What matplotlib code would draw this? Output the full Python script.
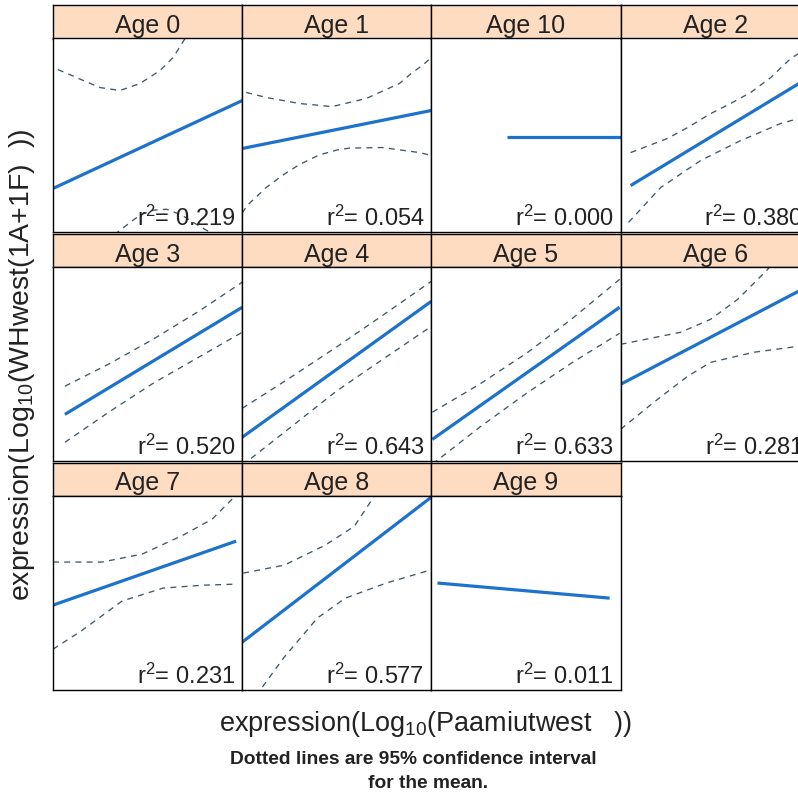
import matplotlib
matplotlib.use("Agg")
import matplotlib.pyplot as plt

plt.rcParams['font.family'] = ['Liberation Sans', 'DejaVu Sans']
plt.rcParams['mathtext.fontset'] = 'custom'
plt.rcParams['mathtext.rm'] = 'Liberation Sans'
plt.rcParams['mathtext.it'] = 'Liberation Sans:italic'
plt.rcParams['mathtext.bf'] = 'Liberation Sans:bold'

# panels in lattice order (left to right, top to bottom)
ages = ["Age 0", "Age 1", "Age 10", "Age 2",
        "Age 3", "Age 4", "Age 5", "Age 6",
        "Age 7", "Age 8", "Age 9"]
r2 = [0.219, 0.054, 0.000, 0.380,
      0.520, 0.643, 0.633, 0.281,
      0.231, 0.577, 0.011]

# fitted regression lines (shared 0-10 scales)
fit_x = [[0, 10], [0, 10], [4.02, 10], [0.53, 10],
         [0.63, 10], [0, 10], [0.05, 9.95], [0, 10],
         [0, 9.68], [0, 10], [0.32, 9.42]]
fit_y = [[2.27, 6.80], [4.33, 6.29], [4.90, 4.90], [2.42, 8.02],
         [2.42, 7.94], [1.24, 8.25], [1.13, 7.94], [3.97, 9.07],
         [4.38, 7.68], [2.47, 9.95], [5.52, 4.74]]

# upper 95% confidence limits
up_x = [[0.26, 1.59, 2.49, 3.54, 4.60, 5.66, 6.35, 6.98, 7.35],
        [0.21, 1.27, 3.02, 4.76, 6.56, 8.31, 9.0, 9.52, 10],
        None,
        [0.53, 2.48, 3.54, 4.76, 5.82, 6.88, 7.94, 8.99, 9.42, 10],
        [0.63, 3.02, 5.29, 7.78, 10],
        [0, 2.49, 4.97, 7.51, 10],
        [0.05, 2.54, 5.03, 7.46, 9.95],
        [0, 3.17, 4.76, 6.19, 7.78, 8.5],
        [0, 2.59, 4.71, 6.88, 8.41, 9.47],
        [0.05, 2.22, 4.39, 5.93, 6.88, 7.25],
        None]
up_y = [[8.40, 7.84, 7.47, 7.32, 7.68, 8.35, 9.02, 10.0, 10.5],
        [7.22, 6.96, 6.65, 6.49, 6.91, 7.68, 8.25, 8.61, 9.02],
        None,
        [4.12, 4.85, 5.41, 6.13, 6.65, 7.22, 7.99, 8.97, 9.23, 9.64],
        [3.87, 5.05, 6.29, 7.78, 9.23],
        [2.73, 4.28, 5.88, 7.58, 9.28],
        [2.53, 3.97, 5.57, 7.37, 9.38],
        [6.03, 6.65, 7.32, 8.35, 9.90, 10.9],
        [6.60, 6.60, 7.01, 7.99, 8.81, 9.85],
        [6.03, 6.44, 7.47, 8.45, 9.85, 10.4],
        None]

# lower 95% confidence limits
lo_x = [[2.8, 3.39, 3.92, 4.60, 5.30, 6.00, 6.80, 7.78, 8.70],
        [0, 0.26, 1.27, 2.12, 3.02, 4.07, 5.0, 5.66, 7.41, 9.37, 10],
        None,
        [0.42, 2.12, 4.23, 6.35, 8.47, 9.42, 10],
        [0.63, 3.02, 5.29, 7.78, 10],
        [0, 2.49, 4.97, 7.51, 10],
        [0.05, 2.54, 5.03, 7.46, 9.95],
        [0, 1.75, 3.54, 4.76, 7.04, 9.42, 10],
        [0, 1.48, 3.65, 5.82, 7.99, 9.58],
        [0.37, 0.95, 2.22, 3.97, 5.45, 7.62, 9.95],
        None]
lo_y = [[-0.5, 0.0, 0.4, 0.9, 1.15, 1.2, 0.9, 0.3, -0.2],
        [1.0, 1.39, 2.32, 2.94, 3.50, 4.0, 4.25, 4.35, 4.38, 4.12, 3.97],
        None,
        [0.52, 2.32, 3.71, 4.74, 5.62, 5.88, 6.05],
        [0.98, 2.58, 4.02, 5.41, 6.65],
        [-0.21, 1.70, 3.61, 5.31, 6.96],
        [-0.15, 1.75, 3.51, 5.10, 6.60],
        [1.65, 3.04, 4.38, 5.10, 5.62, 5.93, 6.0],
        [2.11, 3.04, 4.59, 5.26, 5.41, 5.46],
        [-0.77, 0.0, 1.70, 3.71, 4.74, 5.52, 6.19],
        None]

W, H = 798, 796
fig = plt.figure(figsize=(W / 100, H / 100), dpi=100)


def box(left, top, w, h):
    # pixel box -> figure fraction
    return [left / W, 1 - (top + h) / H, w / W, h / H]


col_w = 189.2
row_h = 228.8
strip_h = 33.5
panel_h = 194

for i, name in enumerate(ages):
    row, col = divmod(i, 4)
    left = 53 + col * col_w
    top = 5 + row * row_h

    strip = fig.add_axes(box(left, top, col_w, strip_h))
    strip.set_facecolor('#fddcc2')
    strip.set_xticks([])
    strip.set_yticks([])
    for s in strip.spines.values():
        s.set_linewidth(1.0)
    strip.text(0.5, 0.17, name, ha='center', va='baseline', fontsize=18,
               color='#222222', transform=strip.transAxes)

    ax = fig.add_axes(box(left, top + strip_h, col_w, panel_h))
    ax.set_xlim(0, 10)
    ax.set_ylim(0, 10)
    ax.set_xticks([])
    ax.set_yticks([])
    for s in ax.spines.values():
        s.set_linewidth(1.0)

    if up_x[i] is not None:
        ax.plot(up_x[i], up_y[i], color='#3f5866', lw=0.95,
                linestyle=(0, (4.5, 4)))
        ax.plot(lo_x[i], lo_y[i], color='#3f5866', lw=0.95,
                linestyle=(0, (4.5, 4)))
    ax.plot(fit_x[i], fit_y[i], color='#1d72cb', lw=2.3,
            solid_capstyle='butt')

    # r^2 label, tight spacing as in the lattice panels
    ax.text(0.963, 0.034, r'$\mathregular{r^2}$= %.3f' % r2[i],
            ha='right', va='baseline', fontsize=17, color='#222222',
            transform=ax.transAxes)

fig.text(22 / W, 1 - 365 / H,
         r'expression(Log$_{\mathregular{10}}$(WHwest(1A+1F)  ))',
         rotation=90, ha='center', va='center', fontsize=20.5,
         color='#222222')
fig.text(425 / W, 1 - 724 / H,
         r'expression(Log$_{\mathregular{10}}$(Paamiutwest   ))',
         ha='center', va='center', fontsize=19.5, color='#222222')
fig.text(413 / W, 1 - 760 / H, 'Dotted lines are 95% confidence interval',
         ha='center', va='center', fontsize=13.8, fontweight='bold',
         color='#222222')
fig.text(428 / W, 1 - 783 / H, 'for the mean.',
         ha='center', va='center', fontsize=13.8, fontweight='bold',
         color='#222222')

fig.savefig('out.png', dpi=100)
